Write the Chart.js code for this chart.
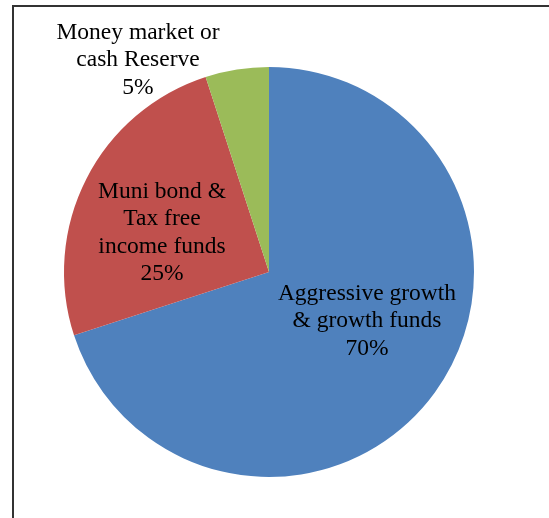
<!DOCTYPE html>
<html>
<head>
<meta charset="utf-8">
<script src="https://cdn.jsdelivr.net/npm/chart.js@4/dist/chart.umd.min.js"></script>
<style>
  html, body { margin: 0; padding: 0; background: #fff; }
  #wrap { position: relative; width: 549px; height: 518px; }
</style>
</head>
<body>
<div id="wrap"><canvas id="c" width="549" height="518"></canvas></div>
<script>
const categories = ["Aggressive growth & growth funds", "Muni bond & Tax free income funds", "Money market or cash Reserve"];
const labelLines = [
  ["Aggressive growth", "& growth funds"],
  ["Muni bond &", "Tax free", "income funds"],
  ["Money market or", "cash Reserve"]
];
const shares = [70, 25, 5];
const colors = ["#4F81BD", "#C0504D", "#9BBB59"];

// label anchor offsets relative to pie centre, in units of the radius
const labelOffsets = [
  { dx: 0.478, dy: 0.24 },
  { dx: -0.522, dy: -0.19 },
  { dx: -0.639, dy: -1.034 }
];

const framePlugin = {
  id: 'frame',
  beforeDraw(chart) {
    const ctx = chart.ctx;
    ctx.save();
    ctx.strokeStyle = '#333';
    ctx.lineWidth = 2;
    ctx.beginPath();
    ctx.moveTo(12, 6);
    ctx.lineTo(549, 6);
    ctx.moveTo(13, 5);
    ctx.lineTo(13, 518);
    ctx.stroke();
    ctx.restore();
  }
};

const labelPlugin = {
  id: 'sliceLabels',
  afterDatasetsDraw(chart) {
    const ctx = chart.ctx;
    const meta = chart.getDatasetMeta(0);
    ctx.save();
    ctx.font = '23.5px "Liberation Serif", "Times New Roman", serif';
    ctx.fillStyle = '#000';
    ctx.textAlign = 'center';
    ctx.textBaseline = 'middle';
    const lh = 27.5;
    meta.data.forEach((arc, i) => {
      const r = arc.outerRadius;
      const cx = arc.x + labelOffsets[i].dx * r;
      const cy = arc.y + labelOffsets[i].dy * r;
      const lines = labelLines[i].concat([shares[i] + '%']);
      const y0 = cy - (lines.length - 1) * lh / 2;
      lines.forEach((t, k) => ctx.fillText(t, cx, y0 + k * lh));
    });
    ctx.restore();
  }
};

new Chart(document.getElementById('c'), {
  type: 'pie',
  data: {
    labels: categories,
    datasets: [{
      data: shares,
      backgroundColor: colors,
      borderWidth: 0
    }]
  },
  options: {
    responsive: false,
    animation: false,
    layout: { padding: { top: 67, bottom: 41, left: 64, right: 75 } },
    plugins: {
      legend: { display: false },
      tooltip: { enabled: false },
      title: { display: false }
    }
  },
  plugins: [framePlugin, labelPlugin]
});
</script>
</body>
</html>
